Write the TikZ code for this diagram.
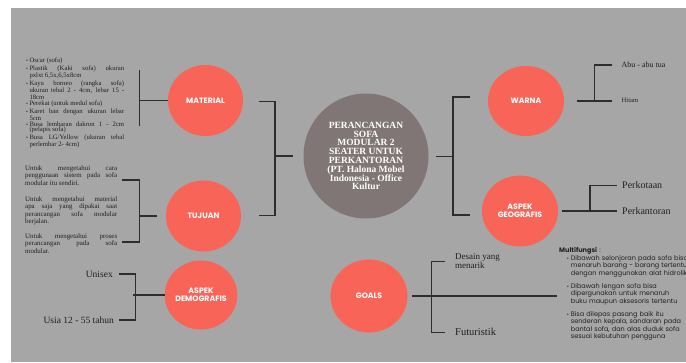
\documentclass[tikz,border=0pt]{standalone}
\usepackage{fontspec}
\setmainfont{Liberation Serif}
\newfontfamily\popfont{Poppins}
\usepackage{enumitem}
\usetikzlibrary{shapes.geometric}
\definecolor{bggray}{RGB}{166,166,166}
\definecolor{salmon}{RGB}{249,100,88}
\definecolor{hubgray}{RGB}{128,118,117}
\definecolor{linegray}{RGB}{45,45,45}
\definecolor{ink}{RGB}{32,32,32}
\tolerance=10000 \hbadness=10000 \hyphenpenalty=10000
\lineskiplimit=-20pt \lineskip=0pt

\begin{document}
\begin{tikzpicture}[x=1pt,y=-1pt,
  bubble/.style={ellipse,fill=salmon,minimum width=75pt,minimum height=71pt,inner sep=0pt,
    text=white,align=center,font=\popfont\bfseries\fontsize{7.8}{7.6}\selectfont},
  link/.style={draw=linegray,line width=1.4pt},
  note/.style={inner sep=0pt,text=ink}]
\clip (0,0) rectangle (686,362);
\fill[white] (0,0) rectangle (686,362);
\fill[bggray] (11,8) rectangle (686,362);

% circles
\node[circle,fill=hubgray,minimum size=125pt,inner sep=0pt,text=white,align=center,
  font=\bfseries\fontsize{9.5}{8.8}\selectfont] (hub) at (366,156)
  {PERANCANGAN\\SOFA\\MODULAR 2\\SEATER UNTUK\\PERKANTORAN\\(PT. Halona Mobel\\Indonesia - Office\\Kultur};
\node[bubble] (mat) at (205.5,100.5) {MATERIAL};
\node[bubble] (tuj) at (203.5,216) {TUJUAN};
\node[bubble,minimum width=69pt,minimum height=69pt] (demo) at (201,295) {ASPEK\\DEMOGRAFIS};
\node[bubble,minimum width=76pt,minimum height=70pt] (warna) at (526,101) {WARNA};
\node[bubble,minimum width=76pt] (geo) at (520,211) {ASPEK\\GEOGRAFIS};
\node[bubble,minimum width=77pt,minimum height=73pt] (goals) at (369,296) {GOALS};

% left texts
\node[note,anchor=north west,text width=100pt,align=justify,font=\fontsize{6.7}{5.2}\selectfont] (matlist) at (24,57) {%
\begin{itemize}[leftmargin=5.3pt,labelsep=1.6pt,itemsep=0.9pt,parsep=0pt,topsep=0pt,partopsep=0pt,label=\scalebox{0.8}{\textbullet}]
\item Oscar (sofa)
\item Plastik (Kaki sofa) ukuran\linebreak pxlxt 6,5x,6,5x8cm
\item Kayu borneo (rangka sofa)\linebreak ukuran tebal 2 - 4cm, lebar 15 -\linebreak 18cm
\item Perekat (untuk medul sofa)
\item Karet ban dengan ukuran lebar\linebreak 5cm
\item Busa lembaran dakron 1 - 2cm\linebreak (pelapis sofa)
\item Busa LG/Yellow (ukuran tebal\linebreak perlembar 2- 4cm)
\end{itemize}};
\node[note,anchor=west,text width=92pt,align=justify,font=\fontsize{6.9}{5.5}\selectfont] (tuj1) at (25,175.5)
  {Untuk mengetahui cara\linebreak penggunaan sistem pada sofa\linebreak modular itu sendiri.};
\node[note,anchor=west,text width=92pt,align=justify,font=\fontsize{6.9}{5.5}\selectfont] (tuj2) at (25,211)
  {Untuk mengetahui material\linebreak apa saja yang dipakai saat\linebreak perancangan sofa modular\linebreak berjalan.};
\node[note,anchor=west,text width=92pt,align=justify,font=\fontsize{6.9}{5.5}\selectfont] (tuj3) at (25,243.5)
  {Untuk mengetahui proses\linebreak perancangan pada sofa\linebreak modular.};
\node[note,anchor=east,font=\fontsize{9.5}{10}\selectfont] (unisex) at (113,274) {Unisex};
\node[note,anchor=east,font=\fontsize{9.5}{10}\selectfont] (usia) at (114,320) {Usia 12 - 55 tahun};

% right texts
\node[note,anchor=west,font=\fontsize{8}{9}\selectfont] (abu) at (621.5,64.5) {Abu - abu tua};
\node[note,anchor=west,font=\fontsize{6.6}{7}\selectfont] (hitam) at (621.5,100.5) {Hitam};
\node[note,anchor=west,font=\fontsize{10}{11}\selectfont] (kota) at (622,185.5) {Perkotaan};
\node[note,anchor=west,font=\fontsize{10}{11}\selectfont] (kantor) at (622,211) {Perkantoran};
\node[note,anchor=west,align=left,font=\fontsize{9}{8.5}\selectfont] (desain) at (455,261) {Desain yang\\menarik};
\node[note,anchor=west,font=\fontsize{10.5}{11}\selectfont] (futur) at (455,332) {Futuristik};
\node[note,anchor=north west,text width=150pt,align=left,font=\popfont\fontsize{6.5}{7.5}\selectfont] (multi) at (559,247.5) {%
\textbf{Multifungsi} :
\begin{itemize}[leftmargin=11.7pt,labelsep=2pt,itemsep=5.5pt,parsep=0pt,topsep=0pt,partopsep=0pt,label=\scalebox{0.8}{\textbullet}]
\item Dibawah selonjoran pada sofa bisa\\menaruh barang - barang tertentu\\dengan menggunakan alat hidrolik
\item Dibawah lengan sofa bisa\\dipergunakan untuk menaruh\\buku maupun aksesoris tertentu
\item Bisa dilepas pasang baik itu\\senderan kepala, sandaran pada\\bantal sofa, dan alas duduk sofa\\sesuai kebutuhan pengguna
\end{itemize}};

% brackets
\coordinate (mattop) at (139.5,70);
\coordinate (matbot) at (139.5,126);
\draw[link] (mattop) -- (matbot);
\draw[link] (mat.west) -- (mat.west -| mattop);
\coordinate (tujtop) at (121.5,180);
\coordinate (tujbot) at (121.5,242);
\coordinate (tujtick) at (157,216);
\draw[link] (tujtop) -- ++(18,0) |- (tujbot);
\draw[link] (tujtick) -- ++(-17.5,0);
\coordinate (lbtop) at (258.5,101.5);
\coordinate (lbbot) at (258.5,215.5);
\coordinate (lbtick) at (292.5,156);
\draw[link] (lbtop) -- ++(16.5,0) |- (lbbot);
\draw[link] (lbtick) -- ++(-17.5,0);
\coordinate (rbtop) at (470,97);
\coordinate (rbbot) at (470,215);
\coordinate (rbtick) at (436,156.5);
\draw[link] (rbtop) -- ++(-17,0) |- (rbbot);
\draw[link] (rbtick) -- ++(17,0);
\coordinate (warnaend) at (577,101);
\draw[link] (warnaend) -- ++(35,0) (warnaend) ++(17.5,0) -- ++(0,-36) -- ++(17.5,0);
\coordinate (geoend) at (561.5,211);
\draw[link] (geoend) -- ++(55.5,0) (geoend) ++(28.5,0) -- ++(0,-25.5) -- ++(27,0);
\coordinate (goalsend) at (411.5,296);
\draw[link] (goalsend) -- ++(145,0);
\draw[link] (goalsend) ++(33,-34.5) -- ++(-13,0) -- ++(0,71) -- ++(13,0);
\coordinate (demotop) at (118.5,274);
\coordinate (demobot) at (118.5,320);
\draw[link] (demotop) -- ++(17,0) |- (demobot);
\draw[link] (demo.west) -- ++(-31.5,0);
\end{tikzpicture}
\end{document}
